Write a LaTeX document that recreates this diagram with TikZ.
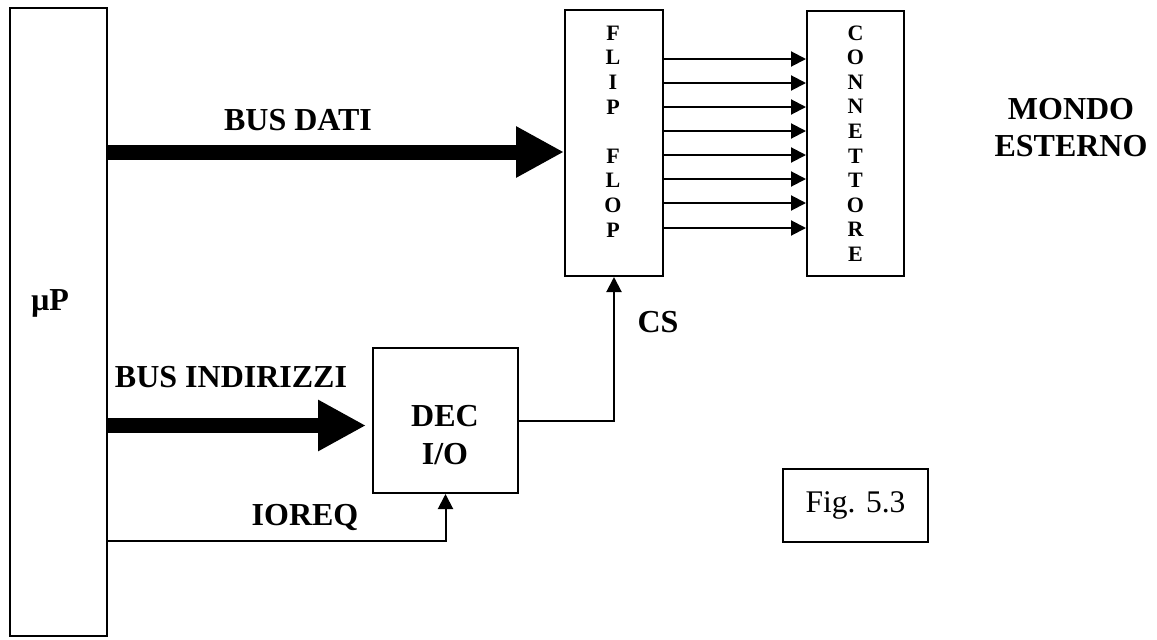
\documentclass[tikz,border=0pt]{standalone}
\usepackage{fontspec}
\setmainfont{Liberation Serif}
\usetikzlibrary{arrows.meta}
\begin{document}
\begin{tikzpicture}[x=1pt,y=-1pt,
  blk/.style={draw, line width=2pt, inner sep=0pt},
  lbl/.style={font=\fontsize{32}{38}\selectfont\bfseries, inner sep=0pt, align=center},
  vlbl/.style={font=\fontsize{22}{24.6}\selectfont\bfseries, inner sep=0pt, align=center},
  bus/.style={line width=15pt, -{Triangle[length=48pt,width=48pt]}},
  sig/.style={line width=2pt, -{Triangle[length=15pt,width=15pt]}}
]
\fill[white] (0,0) rectangle (1157,640);
\useasboundingbox (0,0) rectangle (1157,640);

% blocks
\node[blk, minimum width=97pt, minimum height=628pt] (up) at (58.5,322) {};
\node[lbl, text depth=0pt] (uplbl) at (50,300) {µP};
\node[blk, minimum width=98pt, minimum height=266pt] (ff) at (614,143) {};
\node[vlbl] (fflbl) at (613,131.5) {F\\L\\I\\P\\[24.6pt]F\\L\\O\\P};
\node[blk, vlbl, minimum width=97pt, minimum height=265pt] (con) at (855.5,143.5) {C\\O\\N\\N\\E\\T\\T\\O\\R\\E};
\node[blk, minimum width=145pt, minimum height=145pt] (dec) at (445.5,420.5) {};
\node[lbl] (declbl) at (445,435) {DEC\\I/O};
\node[blk, minimum width=145pt, minimum height=73pt, font=\fontsize{31.5}{37}\selectfont] (fig) at (855.5,505.5) {Fig. 5.3};

% labels
\node[lbl, text depth=0pt] (ldati) at (298,120) {BUS DATI};
\node[lbl, text depth=0pt] (lind) at (231,377) {BUS INDIRIZZI};
\node[lbl, text depth=0pt] (lioreq) at (305,515) {IOREQ};
\node[lbl, text depth=0pt] (lcs) at (658,322) {CS};
\node[lbl, font=\fontsize{32}{37}\selectfont\bfseries] (lmondo) at (1071,128) {MONDO\\ESTERNO};

% connectors
\draw[bus] (up.east |- 0,152) -- (ff.west |- 0,152);
\draw[bus, shorten >=6pt] (up.east |- 0,425.5) -- (dec.west |- 0,425.5);
\draw[sig] (up.east |- 0,541) -| (dec.south);
\draw[sig] (dec.east) -| (ff.south);
\foreach \y in {59,83,107,131,155,179,203,228}
  \draw[sig] (ff.east |- 0,\y) -- (con.west |- 0,\y);
\end{tikzpicture}
\end{document}
